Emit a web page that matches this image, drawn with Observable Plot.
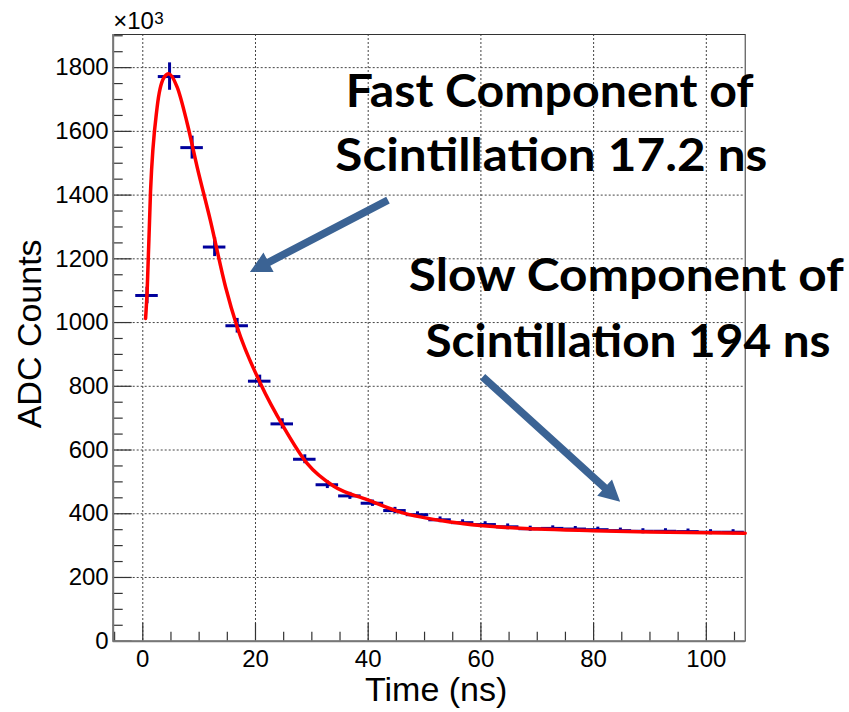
<!DOCTYPE html>
<html>
<head>
<meta charset="utf-8">
<script src="https://cdn.jsdelivr.net/npm/d3@7"></script>
<script src="https://cdn.jsdelivr.net/npm/@observablehq/plot@0.6"></script>
<style>
  html, body { margin: 0; padding: 0; background: #fff; }
  #chart svg { display: block; }
</style>
</head>
<body>
<div id="chart"></div>
<script>
// ---- data ----
const binCenters = [0.75, 4.75, 8.75, 12.75, 16.75, 20.75, 24.75, 28.75, 32.75, 36.75, 40.75, 44.75, 48.75, 52.75, 56.75, 60.75, 64.75, 68.75, 72.75, 76.75, 80.75, 84.75, 88.75, 92.75, 96.75, 100.75, 104.75];
const counts = [1085, 1772, 1549, 1237, 990, 816, 682, 571, 491, 456, 433, 410, 397, 381, 372, 366, 359, 353, 354, 352, 350, 347, 345, 345, 344, 342, 342];
const errors = [26, 43, 36, 30, 23, 19, 16, 14, 12, 11, 10, 10, 9, 9, 9, 9, 9, 8, 8, 8, 8, 8, 8, 8, 8, 8, 8];
const binWidth = 4;

const fitTime = [0.5, 0.78, 1.37, 2.55, 3.73, 4.6, 6.1, 7.9, 9.65, 12.0, 14.7, 16.75, 20.9, 25.0, 29.2, 33.9, 39.8, 45.7, 54.6, 59.9, 70, 80, 90, 106.9];
const fitValue = [1013, 1101, 1410, 1676, 1768, 1781, 1739, 1624, 1488, 1320, 1111, 986, 808, 672, 557, 486, 444, 405, 374, 363, 352, 347, 343, 339];

const xMajorTicks = [0, 20, 40, 60, 80, 100];
const yMajorTicks = [0, 200, 400, 600, 800, 1000, 1200, 1400, 1600, 1800];

const annotationLines = ["Fast Component of", "Scintillation 17.2 ns", "Slow Component of", "Scintillation 194 ns"];
const annotationTime = [72.2, 72.5, 85.8, 86.1];
const annotationValue = [1676, 1477, 1100, 891];

const arrowFromTime = [43.6, 60.4];
const arrowFromValue = [1383, 828];
const arrowToTime = [19.1, 84.8];
const arrowToValue = [1157, 436];

// ---- layout / style (not data) ----
const annotationWidths = [408, 432, 435, 405];
const W = 849, H = 712;
const mL = 112.7, mR = 104.3, mT = 34, mB = 71.3;
const plotW = W - mL - mR, plotH = H - mT - mB;
const blue = "#00009c";
const arrowColor = "#3b6394";

// ---- derived tables ----
const points = binCenters.map((t, i) => ({t, v: counts[i], e: errors[i]}));
const fit = fitTime.map((t, i) => ({t, v: fitValue[i]}));
const notes = annotationLines.map((text, i) => ({text, t: annotationTime[i], v: annotationValue[i]}));
const arrows = arrowFromTime.map((t1, i) => ({t1, v1: arrowFromValue[i], t2: arrowToTime[i], v2: arrowToValue[i]}));
const xMinorTicks = d3.range(-5, 106, 5).filter(d => d % 20 !== 0);
const yMinorTicks = d3.range(50, 1901, 50).filter(d => d % 200 !== 0);

const arrowMark = (index, scales) => {
  const g = d3.create("svg:g").attr("aria-label", "arrows");
  for (const a of arrows) {
    const x1 = scales.x(a.t1), y1 = scales.y(a.v1), x2 = scales.x(a.t2), y2 = scales.y(a.v2);
    const L = Math.hypot(x2 - x1, y2 - y1);
    const ang = Math.atan2(y2 - y1, x2 - x1) * 180 / Math.PI;
    const sw = 3.8, hl = 21, hw = 11;
    const d = `M0,${-sw}L${L - hl},${-sw}L${L - hl},${-hw}L${L},0L${L - hl},${hw}L${L - hl},${sw}L0,${sw}Z`;
    g.append("path").attr("d", d).attr("fill", arrowColor)
      .attr("transform", `translate(${x1},${y1}) rotate(${ang})`);
  }
  return g.node();
};

const chart = Plot.plot({
  width: W, height: H,
  marginLeft: mL, marginRight: mR, marginTop: mT, marginBottom: mB,
  style: {fontFamily: "'Liberation Sans', Arial, sans-serif", background: "#fff", color: "#000"},
  x: {domain: [-5.25, 106.9], label: null},
  y: {domain: [0, 1904], label: null},
  marks: [
    // grid
    Plot.ruleX(xMajorTicks, {stroke: "#444", strokeWidth: 1, strokeDasharray: "2,2"}),
    Plot.ruleY(yMajorTicks.filter(d => d > 0), {stroke: "#444", strokeWidth: 1, strokeDasharray: "2,2"}),
    // inner ticks
    Plot.tickX(xMajorTicks, {x: d => d, insetTop: plotH - 18, stroke: "#333", strokeWidth: 1.2}),
    Plot.tickX(xMinorTicks, {x: d => d, insetTop: plotH - 9, stroke: "#333", strokeWidth: 1.2}),
    Plot.tickY(yMajorTicks, {y: d => d, insetRight: plotW - 19, stroke: "#333", strokeWidth: 1.2}),
    Plot.tickY(yMinorTicks, {y: d => d, insetRight: plotW - 10, stroke: "#333", strokeWidth: 1.2}),
    // frame
    Plot.frame({stroke: "#333", strokeWidth: 1}),
    Plot.ruleY([0], {stroke: "#777", strokeWidth: 2}),
    Plot.ruleX([-5.25], {stroke: "#777", strokeWidth: 2}),
    // axes labels
    Plot.axisX(xMajorTicks, {tickSize: 0, tickPadding: 9, fontSize: 24, label: null, tickFormat: d => String(d)}),
    Plot.axisY(yMajorTicks, {tickSize: 0, tickPadding: 4.5, fontSize: 24, label: null, tickFormat: d => String(d)}),
    // data
    Plot.ruleY(points, {y: "v", x1: d => d.t - binWidth / 2, x2: d => d.t + binWidth / 2, stroke: blue, strokeWidth: 3}),
    Plot.ruleX(points, {x: "t", y1: d => d.v - d.e, y2: d => d.v + d.e, stroke: blue, strokeWidth: 3}),
    // fit
    Plot.line(fit, {x: "t", y: "v", stroke: "#ff0000", strokeWidth: 3.5, curve: "monotone-x"}),
    // arrows
    arrowMark,
    // annotations
    Plot.text(notes, {x: "t", y: "v", text: "text", textAnchor: "middle", lineAnchor: "bottom",
      fontFamily: "Lato, 'Open Sans', sans-serif", fontWeight: 700, fontSize: 45, fill: "#000"}),
    // axis titles
    Plot.text(["ADC Counts"], {frameAnchor: "left", textAnchor: "middle", lineAnchor: "middle", dx: -82.7, dy: -4, rotate: -90, fontSize: 34, fill: "#000"}),
    Plot.text(["Time (ns)"], {frameAnchor: "bottom", textAnchor: "middle", lineAnchor: "bottom", dx: 7, dy: 60, fontSize: 34, fill: "#000"}),
    Plot.text(["×10"], {frameAnchor: "top-left", textAnchor: "start", lineAnchor: "bottom", dy: -5.7, fontSize: 24, fill: "#000"}),
    Plot.text(["3"], {frameAnchor: "top-left", textAnchor: "start", lineAnchor: "bottom", dx: 41, dy: -11, fontSize: 17, fill: "#000"})
  ]
});
// stretch the annotation lines to the widths seen in the reference
chart.querySelectorAll("text").forEach(el => {
  const k = annotationLines.indexOf(el.textContent);
  if (k >= 0) {
    el.setAttribute("textLength", annotationWidths[k]);
    el.setAttribute("lengthAdjust", "spacingAndGlyphs");
  }
});
document.getElementById("chart").appendChild(chart);
</script>
</body>
</html>
